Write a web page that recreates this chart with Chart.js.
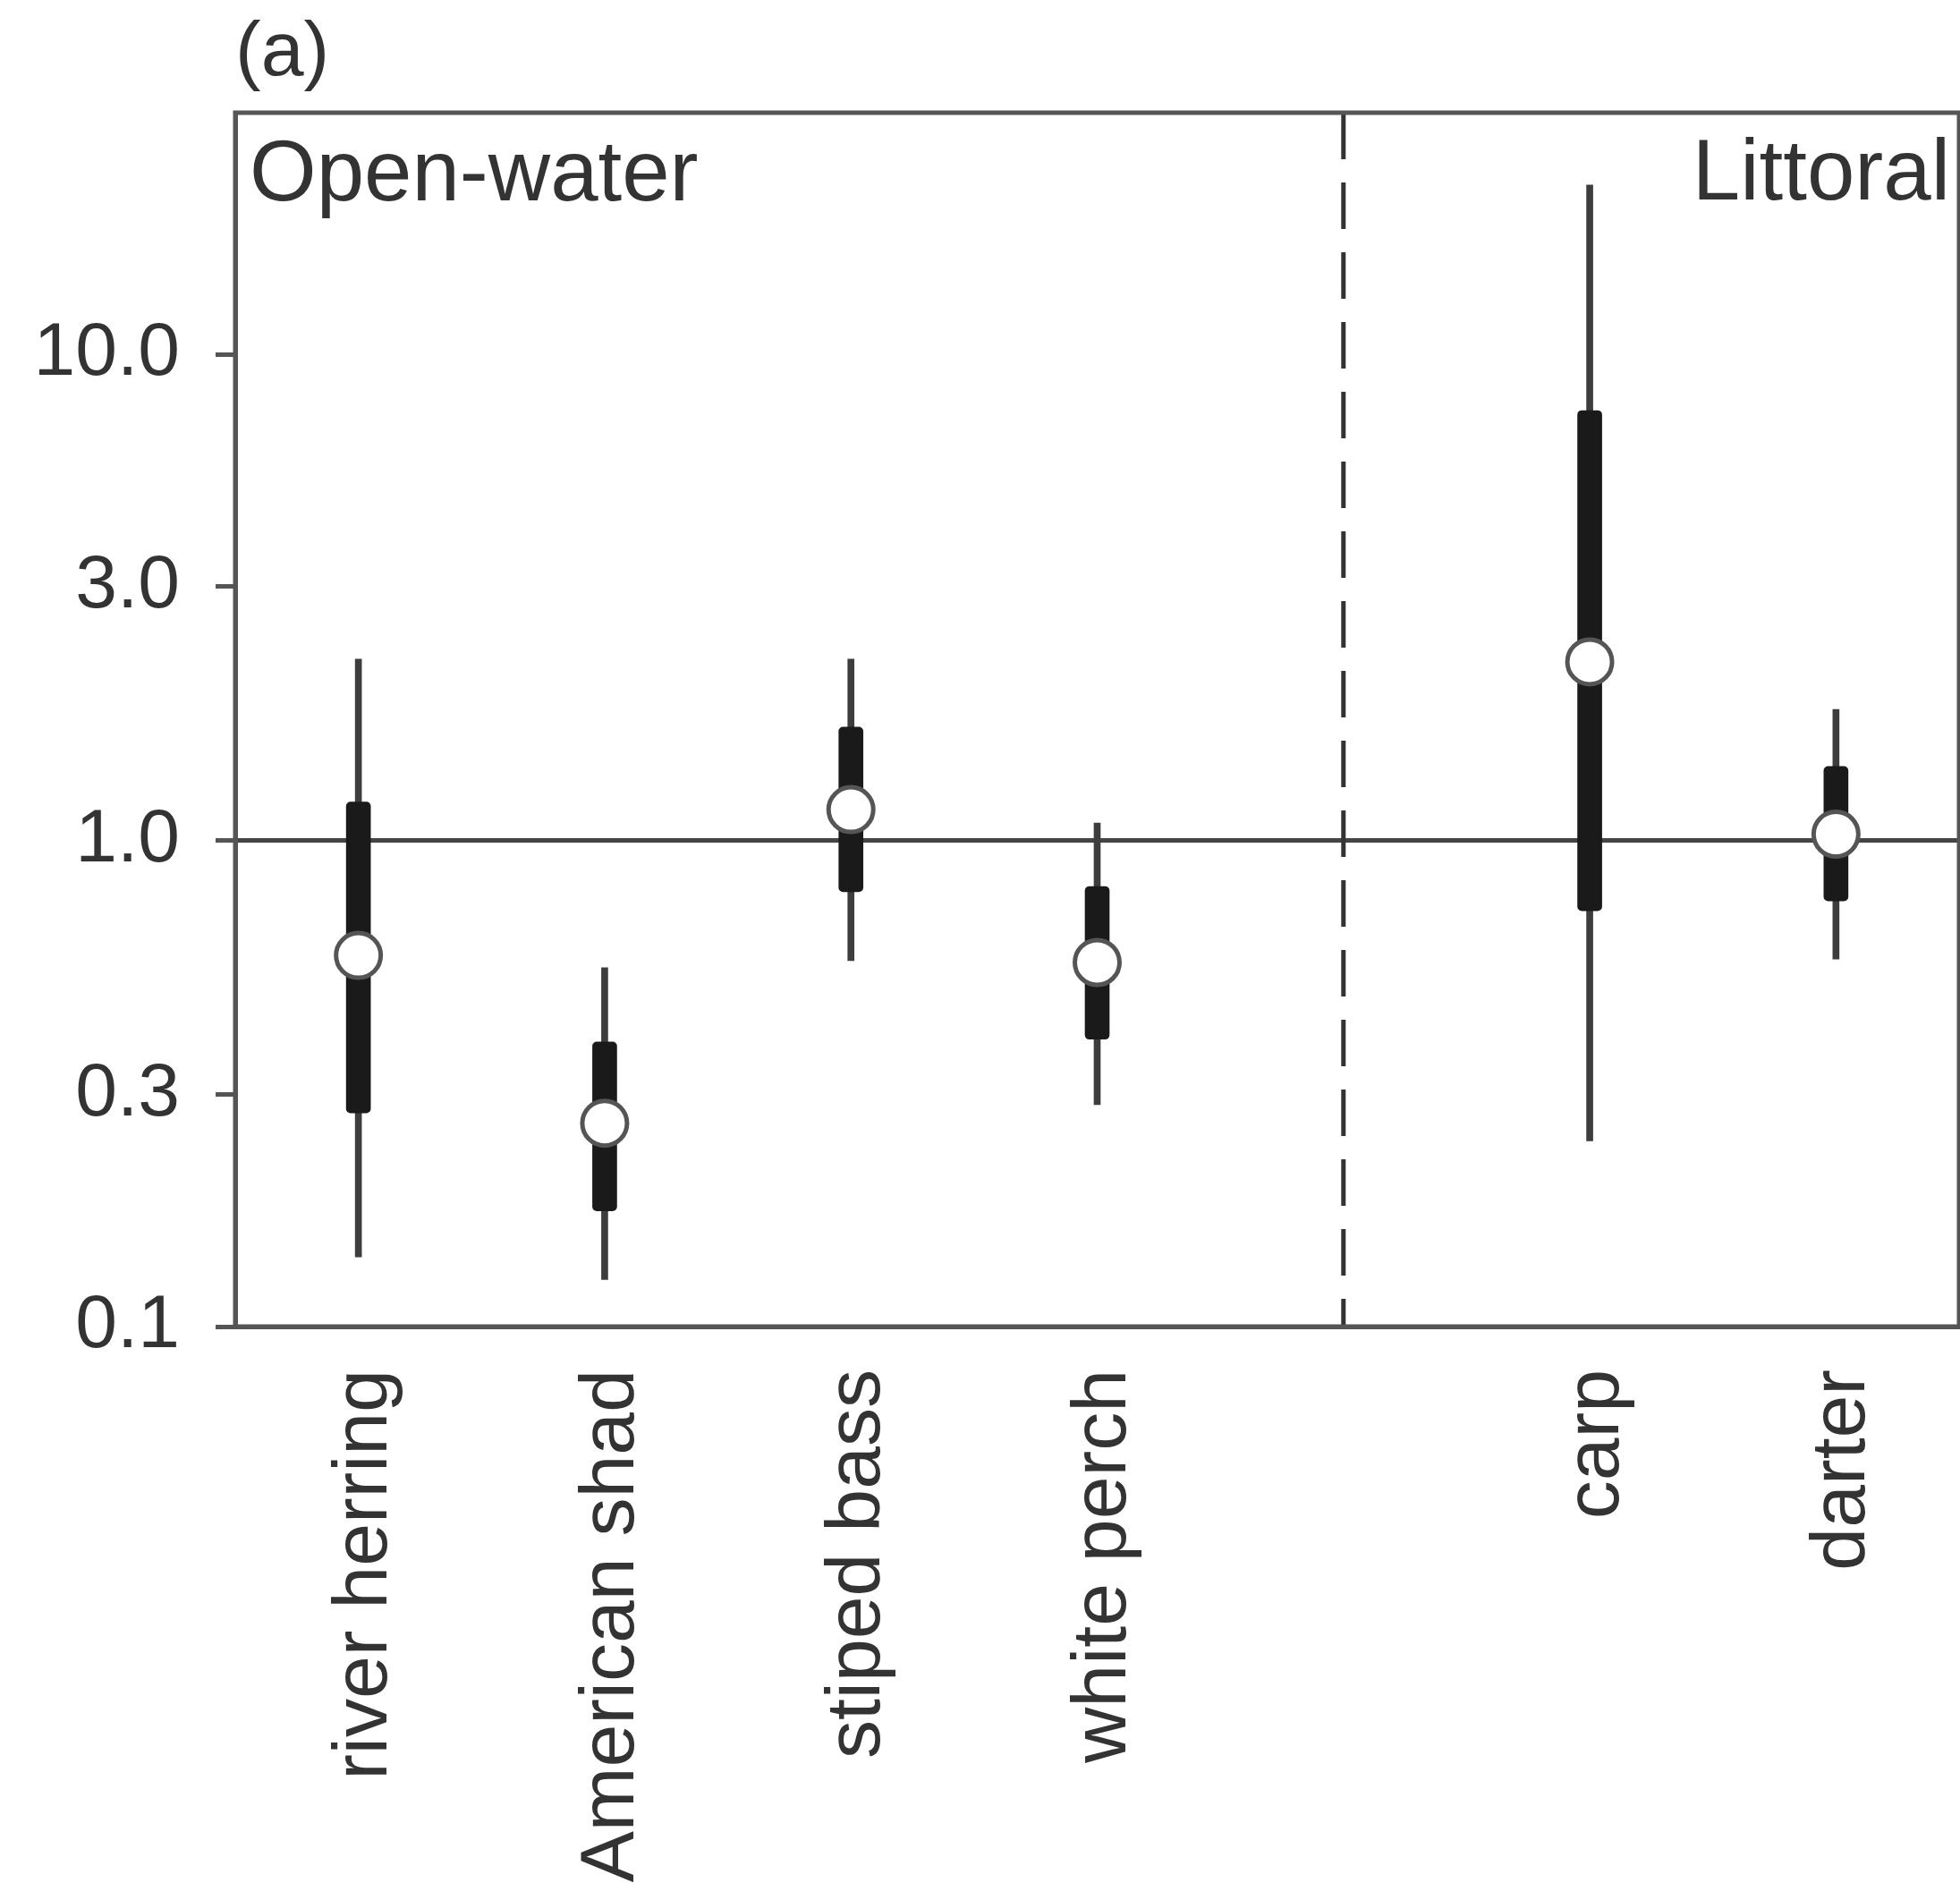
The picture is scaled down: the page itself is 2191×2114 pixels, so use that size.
<!DOCTYPE html>
<html>
<head>
<meta charset="utf-8">
<script src="https://cdn.jsdelivr.net/npm/chart.js@4.4.0/dist/chart.umd.min.js"></script>
<style>
  body { margin: 0; background: #fff; }
  canvas { display: block; }
</style>
</head>
<body>
<canvas id="fishChart" width="2191" height="2114"></canvas>
<script>
// species, with an empty slot where the dashed divider goes
const species = ["river herring", "American shad", "stiped bass", "white perch", "", "carp", "darter"];

// outer interval (thin line)
const outerLow  = [0.139, 0.125, 0.566, 0.286, null, 0.241, 0.570];
const outerHigh = [2.36, 0.547, 2.36, 1.086, null, 22.3, 1.86];

// inner interval (thick bar)
const innerLow  = [0.275, 0.173, 0.784, 0.390, null, 0.717, 0.751];
const innerHigh = [1.20, 0.385, 1.71, 0.804, null, 7.66, 1.42];

// point estimates
const medians = [0.58, 0.262, 1.157, 0.561, null, 2.33, 1.03];

const yTickValues = [0.1, 0.3, 1, 10 / 3, 10];
const yTickLabels = ["0.1", "0.3", "1.0", "3.0", "10.0"];

const FONT = "'Liberation Sans', Arial, Helvetica, sans-serif";
const TEXT_COLOR = '#333';
const LINE_COLOR = '#555';

function toRange(lows, highs) {
    return lows.map((lo, i) => (lo === null ? null : [lo, highs[i]]));
}

const frameAndText = {
    id: 'frameAndText',
    beforeDatasetsDraw(chart) {
        const { ctx, chartArea, scales } = chart;
        ctx.save();
        // dashed divider between the two habitat groups
        const xDiv = scales.x.getPixelForValue(4);
        ctx.strokeStyle = '#333';
        ctx.lineWidth = 5;
        ctx.setLineDash([52, 26]);
        ctx.beginPath();
        ctx.moveTo(xDiv, chartArea.top);
        ctx.lineTo(xDiv, chartArea.bottom);
        ctx.stroke();
        ctx.restore();
    },
    afterDraw(chart) {
        const { ctx, chartArea } = chart;
        ctx.save();
        ctx.strokeStyle = LINE_COLOR;
        ctx.lineWidth = 5;
        ctx.strokeRect(chartArea.left, chartArea.top,
            chartArea.right - chartArea.left, chartArea.bottom - chartArea.top);

        ctx.fillStyle = TEXT_COLOR;
        ctx.textBaseline = 'alphabetic';
        ctx.font = '86px ' + FONT;
        ctx.textAlign = 'left';
        ctx.fillText('(a)', chartArea.left, 84);

        ctx.font = '96px ' + FONT;
        ctx.fillText('Open-water', chartArea.left + 16, chartArea.top + 98);
        ctx.textAlign = 'right';
        ctx.fillText('Littoral', chartArea.right - 10, chartArea.top + 97);
        ctx.restore();
    }
};

new Chart(document.getElementById('fishChart'), {
    type: 'bar',
    data: {
        labels: species,
        datasets: [
            {
                type: 'line',
                data: medians,
                showLine: false,
                pointRadius: 25,
                pointHoverRadius: 25,
                pointBorderWidth: 5,
                pointBorderColor: LINE_COLOR,
                pointBackgroundColor: '#fff',
                order: 0
            },
            {
                data: toRange(innerLow, innerHigh),
                backgroundColor: '#1a1a1a',
                barThickness: 27,
                borderRadius: 5,
                borderSkipped: false,
                grouped: false,
                order: 1
            },
            {
                data: toRange(outerLow, outerHigh),
                backgroundColor: '#3d3d3d',
                barThickness: 7,
                grouped: false,
                order: 2
            }
        ]
    },
    options: {
        responsive: false,
        animation: false,
        devicePixelRatio: 1,
        layout: { autoPadding: false, padding: { top: 126, right: 1, left: 0, bottom: 0 } },
        plugins: {
            legend: { display: false },
            tooltip: { enabled: false }
        },
        scales: {
            x: {
                offset: true,
                grid: { display: false },
                border: { display: true, color: LINE_COLOR, width: 5 },
                ticks: {
                    autoSkip: false,
                    minRotation: 90,
                    maxRotation: 90,
                    padding: 40,
                    labelOffset: 8,
                    color: TEXT_COLOR,
                    font: { family: FONT, size: 86 }
                },
                afterFit(scale) {
                    scale.height = 2114 - 1483;
                    scale.paddingLeft = 0;
                    scale.paddingRight = 0;
                }
            },
            y: {
                type: 'logarithmic',
                min: 0.1,
                max: 31.4,
                border: { display: true, color: LINE_COLOR, width: 5 },
                grid: {
                    drawOnChartArea: true,
                    color: (c) => (c.tick && c.tick.value === 1 ? '#444' : 'rgba(0,0,0,0)'),
                    lineWidth: 5,
                    tickColor: LINE_COLOR,
                    tickLength: 22,
                    tickWidth: 5
                },
                afterBuildTicks(scale) {
                    scale.ticks = yTickValues.map(v => ({ value: v }));
                },
                ticks: {
                    padding: 40,
                    color: TEXT_COLOR,
                    font: { family: FONT, size: 84 },
                    callback: (value) => {
                        const i = yTickValues.findIndex(t => Math.abs(t - value) < 1e-9);
                        return i >= 0 ? yTickLabels[i] : '';
                    }
                },
                afterFit(scale) {
                    scale.width = 263;
                    scale.paddingTop = 0;
                    scale.paddingBottom = 0;
                }
            }
        }
    },
    plugins: [frameAndText]
});
</script>
</body>
</html>
